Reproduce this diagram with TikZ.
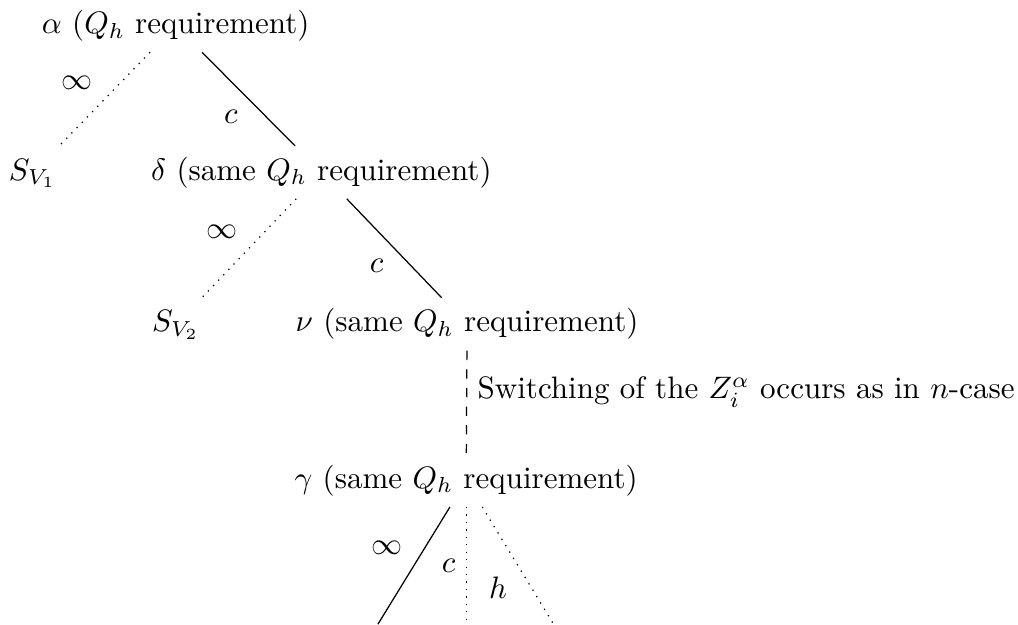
\documentclass[tikz,border=0pt]{standalone}
\usepackage{amsmath}
\usepackage{tikz}
\usetikzlibrary{positioning, calc}
\tikzset{
  reqnode/.style={anchor=base},
  freebranch/.style={dotted},
  switchbranch/.style={dashed}
}

\begin{document}
\begin{tikzpicture}
  \useasboundingbox (0,0) rectangle (11.53,7.07);
  \node[reqnode] (alpha) at (1.99,6.69) {$\alpha$ ($Q_h$ requirement)};
  \node[reqnode] (sv1) at (0.37,5.03) {$S_{V_1}$};
  \node[reqnode] (delta) at (3.64,5.03) {$\delta$ (same $Q_h$ requirement)};
  \node[reqnode] (sv2) at (1.99,3.31) {$S_{V_2}$};
  \node[reqnode] (nu) at (5.29,3.31) {$\nu$ (same $Q_h$ requirement)};
  \node[reqnode] (gamma) at (5.28,1.54) {$\gamma$ (same $Q_h$ requirement)};
  \coordinate (leafa) at (4.28,0);
  \coordinate (leafb) at (5.28,0);
  \coordinate (leafc) at (6.27,0);

  \draw[freebranch] (alpha) -- node[above left] {$\infty$} (sv1);
  \draw (alpha) -- node[below left] {$c$} (delta);
  \draw[freebranch] (delta) -- node[above left] {$\infty$} (sv2);
  \draw (delta) -- node[below left] {$c$} (nu);
  \draw[switchbranch] (nu) -- node[right, pos=0.4] {Switching of the $Z_i^\alpha$ occurs as in $n$-case} (gamma);
  \draw (gamma) -- node[above left] {$\infty$} (leafa);
  \draw[freebranch] (gamma) -- node[left] {$c$} (leafb);
  \draw[freebranch] (gamma) -- node[below left] {$h$} (leafc);
\end{tikzpicture}
\end{document}
